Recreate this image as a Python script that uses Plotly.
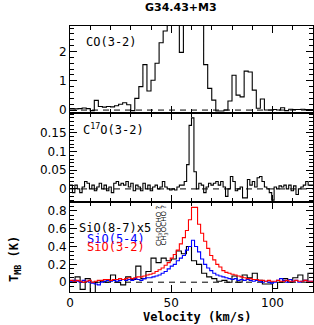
import numpy as np
import plotly.graph_objects as go

# ---------------- data ----------------
title_text = "G34.43+M3"
vel_min, vel_max = 0, 120

# CO(3-2): channel start velocity and width (km/s), values (K)
co_v0, co_dv = 0.0, 2.0
co_vals = [0.05, 0.04, 0.05, 0.07, 0.05, -0.02, 0.33, 0.12, 0.10, 0.12,
           0.11, 0.15, 0.20, 0.25, 0.18, -0.02, 0.40, 0.80, 1.55, 0.65,
           1.02, 1.60, 2.30, 2.70, 3.50, 4.00, 4.20, 1.97, 4.50, 5.00,
           5.00, 4.50, 3.50, 1.55, 0.74, 0.34, -0.03, -0.03, 0.00, 0.31,
           1.19, 0.51, 0.45, 1.33, 1.30, 0.68, 0.06, 0.38, 0.00, 0.00,
           0.02, 0.00, 0.08, -0.02, 0.03, 0.02, 0.02, 0.03, 0.02, 0.02]

# C17O(3-2)
c17o_v0, c17o_dv = 0.0, 1.2
c17o_vals = [0.010, -0.010, 0.010, 0.000, -0.010, 0.005, 0.020, 0.015, 0.000, 0.010,
             -0.005, 0.005, 0.015, 0.000, 0.010, -0.005, 0.005, -0.010, 0.015, 0.020,
             0.010, 0.015, 0.010, 0.020, 0.005, 0.015, -0.005, 0.010, 0.005, -0.005,
             0.015, 0.000, 0.010, -0.005, 0.005, 0.010, 0.000, 0.005, 0.020, 0.005,
             0.000, -0.003, 0.000, -0.003, 0.005, 0.010, 0.010, 0.020, 0.065, 0.170,
             0.190, 0.046, 0.000, 0.015, 0.010, -0.010, 0.005, 0.015, 0.010, 0.015,
             0.020, 0.010, 0.020, 0.005, -0.020, 0.000, 0.033, 0.020, -0.005, 0.000,
             0.005, -0.024, -0.024, 0.025, 0.010, 0.020, 0.005, 0.030, 0.033, 0.020,
             0.005, 0.000, -0.010, -0.030, 0.005, 0.000, 0.008, 0.005, 0.010, 0.000,
             0.010, -0.005, 0.008, -0.015, 0.000, 0.005, 0.010, 0.020, 0.010, 0.010]

# SiO(8-7) x5
sio87_v0, sio87_dv = 0.0, 2.5
sio87_vals = [0.00, 0.06, -0.08, 0.04, -0.12, 0.00, 0.01, 0.00, 0.08, 0.00,
              -0.03, 0.06, 0.03, 0.18, 0.04, 0.12, 0.27, 0.22, 0.27, 0.24,
              0.26, 0.35, 0.32, 0.40, 0.24, 0.20, 0.10, 0.06, 0.04, 0.01,
              0.02, 0.00, 0.07, 0.00, 0.08, 0.05, 0.10, 0.02, -0.02, -0.02,
              -0.07, 0.00, 0.04, 0.00, 0.05, 0.08, 0.02, 0.10]

# SiO(5-4)
sio54_v0, sio54_dv = 0.0, 1.5
sio54_vals = [0.01, 0.02, 0.01, 0.00, 0.02, 0.01, 0.00, -0.01, -0.02, -0.03,
              0.00, 0.01, 0.02, 0.01, 0.02, 0.01, 0.02, 0.03, 0.02, 0.03,
              0.02, 0.04, 0.03, 0.02, 0.04, 0.05, 0.05, 0.06, 0.07, 0.08,
              0.10, 0.12, 0.15, 0.18, 0.20, 0.24, 0.27, 0.30, 0.36, 0.40,
              0.47, 0.40, 0.34, 0.26, 0.20, 0.16, 0.13, 0.10, 0.08, 0.07,
              0.06, 0.05, 0.04, 0.03, 0.04, 0.02, 0.03, 0.02, 0.03, 0.02,
              0.01, 0.02, 0.01, 0.00, 0.01, 0.00, -0.01, 0.00, 0.02, 0.04,
              0.02, 0.00, 0.03, 0.01, 0.02, 0.00, 0.01, 0.02, 0.01, 0.01]

# SiO(3-2)
sio32_v0, sio32_dv = 0.0, 1.5
sio32_vals = [0.02, 0.01, 0.02, 0.01, 0.00, 0.01, 0.02, 0.00, 0.01, 0.02,
              0.02, 0.03, 0.03, 0.02, 0.03, 0.03, 0.04, 0.03, 0.04, 0.05,
              0.04, 0.05, 0.06, 0.06, 0.07, 0.08, 0.09, 0.10, 0.12, 0.14,
              0.16, 0.19, 0.22, 0.27, 0.31, 0.36, 0.43, 0.50, 0.58, 0.70,
              0.84, 0.84, 0.65, 0.55, 0.46, 0.38, 0.30, 0.25, 0.20, 0.17,
              0.13, 0.11, 0.10, 0.09, 0.08, 0.07, 0.06, 0.05, 0.04, 0.04,
              0.03, 0.03, 0.02, 0.02, 0.01, 0.02, 0.01, 0.01, 0.02, 0.01,
              0.01, 0.02, 0.01, 0.01, 0.02, 0.01, 0.01, 0.02, 0.01, 0.01]

panel_labels = ["CO(3-2)", "C<sup>17</sup>O(3-2)"]
sio_labels = ["SiO(8-7)x5", "SiO(5-4)", "SiO(3-2)"]
sio_colors = ["black", "#0000ff", "#ff0000"]
mol_labels = ["CH<sub>3</sub>OCHO ?", "CH<sub>3</sub>OCHO ?"]
x_title = "Velocity (km/s)"
y_title = "T<sub>MB</sub> (K)"

# ---------------- figure ----------------
W, H = 314, 325
ml, mr, mt, mb = 70, 1, 26, 33
ph = H - mt - mb
pw = W - ml - mr
d3 = 90 / ph
d2 = 179 / ph

FONT = "DejaVu Sans"
MONO = "DejaVu Sans Mono"

def steps(v0, dv, vals):
    n = len(vals)
    edges = v0 + dv * np.arange(n + 1)
    return edges, list(vals) + [vals[-1]]

fig = go.Figure()

def add_step(v0, dv, vals, color, xa, ya):
    x, y = steps(v0, dv, vals)
    fig.add_trace(go.Scatter(x=x, y=y, mode="lines", line=dict(color=color, width=1.1, shape="hv"),
                             xaxis=xa, yaxis=ya, showlegend=False, hoverinfo="skip"))

def add_base(xa, ya):
    fig.add_trace(go.Scatter(x=[vel_min, vel_max], y=[0, 0], mode="lines",
                             line=dict(color="black", width=1, dash="6px,5px"),
                             xaxis=xa, yaxis=ya, showlegend=False, hoverinfo="skip"))

add_base("x", "y")
add_step(co_v0, co_dv, co_vals, "black", "x", "y")
add_base("x2", "y2")
add_step(c17o_v0, c17o_dv, c17o_vals, "black", "x2", "y2")
add_base("x3", "y3")
add_step(sio87_v0, sio87_dv, sio87_vals, sio_colors[0], "x3", "y3")
add_step(sio54_v0, sio54_dv, sio54_vals, sio_colors[1], "x3", "y3")
add_step(sio32_v0, sio32_dv, sio32_vals, sio_colors[2], "x3", "y3")

tickfont = dict(family=FONT, size=12, color="black")

def xax(anchor, show_labels):
    return dict(range=[vel_min, vel_max], domain=[0, 1], anchor=anchor,
                showline=True, linecolor="black", linewidth=1, mirror="allticks",
                ticks="inside", ticklen=7, tickcolor="black", dtick=50, tick0=0,
                minor=dict(ticks="inside", ticklen=4, dtick=10, tickcolor="black"),
                showgrid=False, zeroline=False, showticklabels=show_labels,
                tickfont=tickfont)

def yax(anchor, rng, dom, dtick, mdtick):
    return dict(range=rng, domain=dom, anchor=anchor,
                showline=True, linecolor="black", linewidth=1, mirror="allticks",
                ticks="inside", ticklen=7, tickcolor="black", dtick=dtick, tick0=0,
                minor=dict(ticks="inside", ticklen=4, dtick=mdtick, tickcolor="black"),
                showgrid=False, zeroline=False, tickfont=tickfont)

fig.update_layout(
    width=W, height=H,
    margin=dict(l=ml, r=mr, t=mt, b=mb),
    paper_bgcolor="white", plot_bgcolor="white",
    xaxis=xax("y", False),
    xaxis2=xax("y2", False),
    xaxis3=xax("y3", True),
    yaxis=yax("x", [-0.1, 2.87], [d2, 1], 1, 0.2),
    yaxis2=yax("x2", [-0.035, 0.203], [d3, d2], 0.05, 0.01),
    yaxis3=yax("x3", [-0.11, 0.9], [0, d3], 0.2, 0.05),
    font=dict(family=FONT, color="black"),
)
fig.update_layout(yaxis2=dict(tickvals=[0, 0.05, 0.1, 0.15], ticktext=["0", "0.05", "0.1", "0.15"]))

ann = []
ann.append(dict(text="<b>" + title_text + "</b>", x=(181 - ml) / pw, y=1 + (mt - 8) / ph,
                xref="paper", yref="paper", xanchor="center", yanchor="middle",
                showarrow=False, font=dict(family=FONT, size=11)))
ann.append(dict(text=panel_labels[0], x=7.0, y=2.32, xref="x", yref="y", xanchor="left", yanchor="middle",
                showarrow=False, font=dict(family=MONO, size=12)))
ann.append(dict(text=panel_labels[1], x=5.6, y=0.16, xref="x2", yref="y2", xanchor="left", yanchor="middle",
                showarrow=False, font=dict(family=MONO, size=12)))
sio_pos = [(3.3, 0.61), (7.2, 0.49), (7.2, 0.39)]
for lab, col, (xx, yy) in zip(sio_labels, sio_colors, sio_pos):
    ann.append(dict(text=lab, x=xx, y=yy, xref="x3", yref="y3", xanchor="left", yanchor="middle",
                    showarrow=False, font=dict(family=MONO, size=12, color=col)))
for lab, xx in zip(mol_labels, [43.9, 46.6]):
    ann.append(dict(text=lab, x=xx, y=0.64, xref="x3", yref="y3", textangle=-90,
                    xanchor="center", yanchor="middle",
                    showarrow=False, font=dict(family=FONT, size=7)))
ann.append(dict(text="<b>" + x_title + "</b>", x=(196.7 - ml) / pw, y=-(317 - (H - mb)) / ph,
                xref="paper", yref="paper", xanchor="center", yanchor="middle",
                showarrow=False, font=dict(family=MONO, size=12)))
ann.append(dict(text="<b>" + y_title + "</b>", x=(15 - ml) / pw, y=((H - mb) - 259) / ph,
                xref="paper", yref="paper", xanchor="center", yanchor="middle",
                showarrow=False, textangle=-90, font=dict(family=MONO, size=12)))
fig.update_layout(annotations=ann)

fig.write_html("out.html", config={"displayModeBar": False},
               post_script="document.body.style.margin='0px';document.body.style.overflow='hidden';")
